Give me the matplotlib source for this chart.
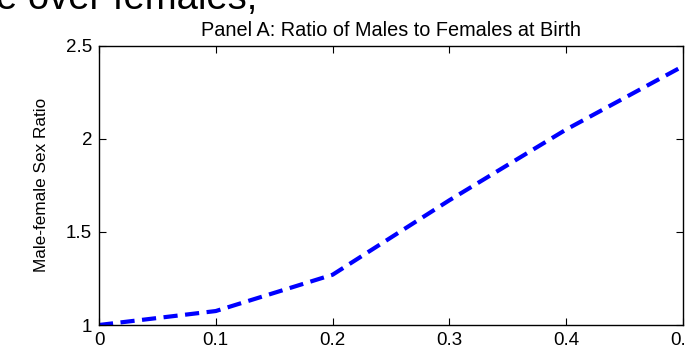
import numpy as np
import matplotlib.pyplot as plt

plt.rcParams['font.family'] = 'Liberation Sans'

# share of sons desired (x) vs. resulting sex ratio at birth
pref = [0.0, 0.1, 0.2, 0.3, 0.4, 0.5]
sex_ratio = [1.0, 1.075, 1.27, 1.67, 2.05, 2.39]

fig = plt.figure(figsize=(6.86, 3.53), dpi=100)
ax = fig.add_axes([99 / 686, 1 - 325 / 353, 584 / 686, 279.3 / 353])

ax.plot(pref, sex_ratio, color='#0000ff', linewidth=3,
        linestyle=(0, (3.4, 1.8)))

ax.set_xlim(0, 0.5)
ax.set_ylim(1, 2.5)
ax.set_xticks([0, 0.1, 0.2, 0.3, 0.4, 0.5])
ax.set_xticklabels(['0', '0.1', '0.2', '0.3', '0.4', '0.5'])
ax.set_yticks([1, 1.5, 2, 2.5])
ax.set_yticklabels(['1', '1.5', '2', '2.5'])
ax.tick_params(direction='in', length=5, top=True, right=True,
               labelsize=13.5, pad=5)
for s in ax.spines.values():
    s.set_linewidth(1)

ax.set_ylabel('Male-female Sex Ratio', fontsize=12.3, labelpad=12)
ax.set_title('Panel A: Ratio of Males to Females at Birth', fontsize=14.3, pad=7)

# bit of slide text cut off at the top
fig.text(-0.006, 1 - 9 / 353, 'e over females,', fontsize=27.5,
         va='baseline', ha='left')

fig.savefig('out.png', dpi=100)
